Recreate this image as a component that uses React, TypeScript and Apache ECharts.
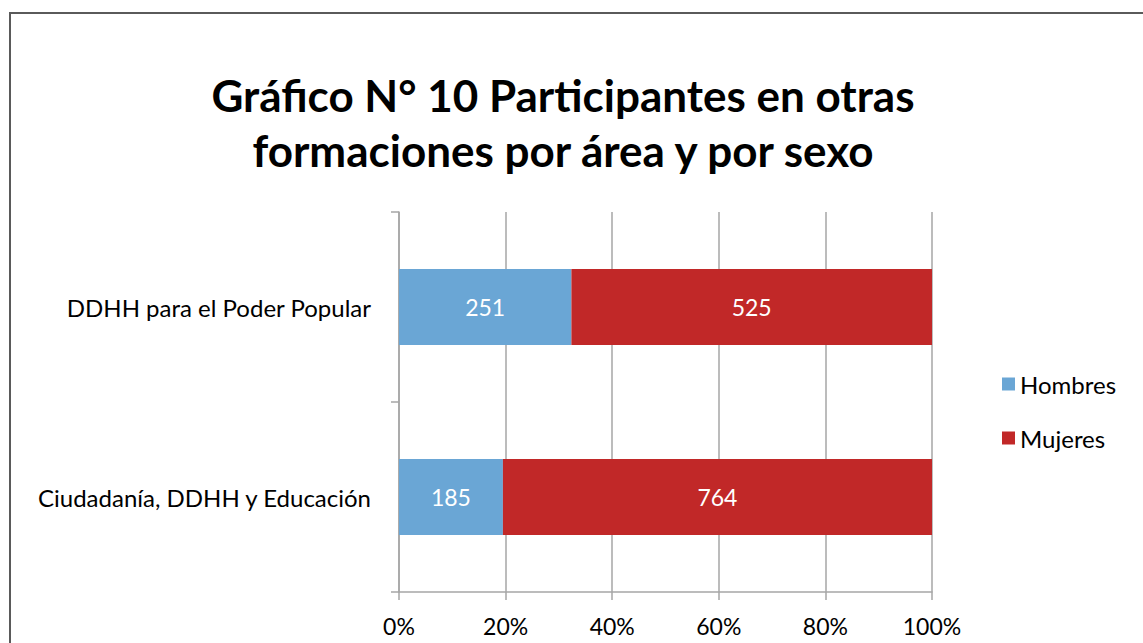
import React, { useEffect, useRef } from "react";
import * as echarts from "echarts";

const categories = ["Ciudadanía, DDHH y Educación", "DDHH para el Poder Popular"];
const hombres = [185, 251];
const mujeres = [764, 525];
const seriesNames = ["Hombres", "Mujeres"];
const xTicks = [0, 20, 40, 60, 80, 100];

const FONT = "Lato, 'Open Sans', sans-serif";

export default function App() {
  const ref = useRef<HTMLDivElement>(null);
  useEffect(() => {
    document.body.style.margin = "0";
    const chart = echarts.init(ref.current!, null, { renderer: "svg" });
    const totals = categories.map((_, i) => hombres[i] + mujeres[i]);
    const mk = (arr: number[]) =>
      arr.map((v, i) => ({ value: (v / totals[i]) * 100, raw: v }));
    const labelCfg = {
      show: true,
      position: "inside",
      color: "#ffffff",
      fontSize: 23,
      fontFamily: FONT,
      formatter: (p: any) => String(p.data.raw),
    };
    chart.setOption({
      animation: false,
      backgroundColor: "#ffffff",
      title: {
        text: "Gráfico N° 10 Participantes en otras\nformaciones por área y por sexo",
        left: 558,
        textAlign: "center",
        top: 62,
        textStyle: {
          fontFamily: FONT,
          fontWeight: "bold",
          fontSize: 44,
          lineHeight: 55,
          color: "#000000",
        },
      },
      graphic: [
        {
          type: "rect",
          shape: { x: 10, y: 13, width: 1200, height: 700 },
          style: { fill: "none", stroke: "#5a5a5a", lineWidth: 2 },
          silent: true,
        },
      ],
      legend: {
        orient: "vertical",
        left: 997,
        top: 367,
        itemWidth: 13,
        itemHeight: 13,
        itemGap: 30,
        icon: "rect",
        textStyle: { fontFamily: FONT, fontSize: 24, color: "#000" },
        data: seriesNames,
      },
      grid: { left: 399, right: 211, top: 212, bottom: 51, containLabel: false },
      xAxis: {
        type: "value",
        min: xTicks[0],
        max: xTicks[xTicks.length - 1],
        interval: 20,
        axisLabel: {
          formatter: "{value}%",
          fontFamily: FONT,
          fontSize: 23,
          color: "#000",
          margin: 22,
        },
        axisLine: { show: true, lineStyle: { color: "#a6a6a6", width: 1.5 } },
        axisTick: { show: true, length: 8, lineStyle: { color: "#a6a6a6", width: 1.5 } },
        splitLine: { show: true, lineStyle: { color: "#a6a6a6", width: 1.5 } },
      },
      yAxis: {
        type: "category",
        data: categories,
        axisLabel: { fontFamily: FONT, fontSize: 24, color: "#000", margin: 28 },
        axisLine: { show: true, lineStyle: { color: "#a6a6a6", width: 1.5 } },
        axisTick: { show: true, length: 8, lineStyle: { color: "#a6a6a6", width: 1.5 } },
      },
      series: [
        {
          name: seriesNames[0],
          type: "bar",
          stack: "total",
          barCategoryGap: "60%",
          itemStyle: { color: "#6aa6d5" },
          label: labelCfg,
          data: mk(hombres),
        },
        {
          name: seriesNames[1],
          type: "bar",
          stack: "total",
          barCategoryGap: "60%",
          itemStyle: { color: "#c12828" },
          label: labelCfg,
          data: mk(mujeres),
        },
      ],
    });
    return () => chart.dispose();
  }, []);
  return <div ref={ref} style={{ width: 1143, height: 643 }} />;
}
